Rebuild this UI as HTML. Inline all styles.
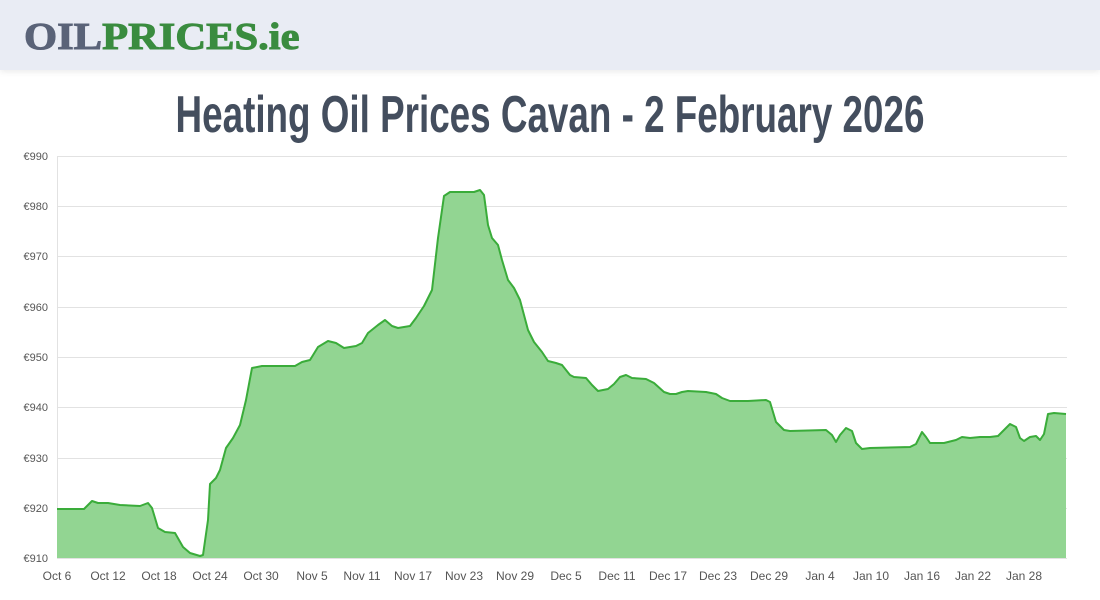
<!DOCTYPE html>
<html><head><meta charset="utf-8"><style>
body{margin:0;width:1100px;height:600px;background:#fff;overflow:hidden;font-family:"Liberation Sans",sans-serif}
.hdr{position:absolute;left:0;top:0;width:1100px;height:70px;background:#e9ecf4;box-shadow:0 2px 6px rgba(0,0,0,0.08)}
.logo{position:absolute;left:24px;top:17px;font-family:"Liberation Serif",serif;font-weight:bold;font-size:38px;letter-spacing:0px;line-height:40px;transform-origin:0 0;transform:scaleX(1.12);-webkit-text-stroke:1px currentColor}
h1{position:absolute;left:0;top:84px;width:1100px;margin:0;text-align:center;font-family:"Liberation Sans Narrow","Liberation Sans",sans-serif;font-weight:bold;font-size:52px;color:#444e5e;line-height:62px;transform:scaleX(0.708);transform-origin:550px 0}
</style></head><body>
<div class="hdr"><div class="logo"><span style="color:#5a6378">OIL</span><span style="color:#3a8c3f">PRICES.ie</span></div></div>
<h1>Heating Oil Prices Cavan - 2 February 2026</h1>
<svg width="1100" height="600" style="position:absolute;left:0;top:0">
<g stroke="#e2e2e2" stroke-width="1">
<line x1="57" y1="156.5" x2="1067" y2="156.5"/><line x1="57" y1="206.5" x2="1067" y2="206.5"/><line x1="57" y1="256.5" x2="1067" y2="256.5"/><line x1="57" y1="307.5" x2="1067" y2="307.5"/><line x1="57" y1="357.5" x2="1067" y2="357.5"/><line x1="57" y1="407.5" x2="1067" y2="407.5"/><line x1="57" y1="458.5" x2="1067" y2="458.5"/><line x1="57" y1="508.5" x2="1067" y2="508.5"/><line x1="57" y1="558.5" x2="1067" y2="558.5"/>
<line x1="57.5" y1="156" x2="57.5" y2="558"/>
</g>
<g font-size="11" fill="#555" text-anchor="end">
<text x="48" y="160">€990</text><text x="48" y="210">€980</text><text x="48" y="260">€970</text><text x="48" y="311">€960</text><text x="48" y="361">€950</text><text x="48" y="411">€940</text><text x="48" y="462">€930</text><text x="48" y="512">€920</text><text x="48" y="562">€910</text>
</g>
<g font-size="12" fill="#555" text-anchor="middle">
<text x="57" y="580">Oct 6</text><text x="108" y="580">Oct 12</text><text x="159" y="580">Oct 18</text><text x="210" y="580">Oct 24</text><text x="261" y="580">Oct 30</text><text x="312" y="580">Nov 5</text><text x="362" y="580">Nov 11</text><text x="413" y="580">Nov 17</text><text x="464" y="580">Nov 23</text><text x="515" y="580">Nov 29</text><text x="566" y="580">Dec 5</text><text x="617" y="580">Dec 11</text><text x="668" y="580">Dec 17</text><text x="718" y="580">Dec 23</text><text x="769" y="580">Dec 29</text><text x="820" y="580">Jan 4</text><text x="871" y="580">Jan 10</text><text x="922" y="580">Jan 16</text><text x="973" y="580">Jan 22</text><text x="1024" y="580">Jan 28</text>
</g>
<polygon fill="#92d592" points="57,558 57,509 80,509 84,509 92,501 98,503 108,503 120,505 140,506 148,503 152,508 158,528 165,532 175,533 183,547 190,553 200,556 203,555 208,520 210,484 216,478 220,470 226,448 233,438 240,425 246,400 252,368 262,366 295,366 302,362 310,360 318,347 328,341 336,343 344,348 356,346 362,343 368,333 378,325 385,320 392,326 398,328 410,326 416,318 424,306 432,290 438,238 444,196 450,192 468,192 474,192 480,190 484,195 488,225 492,238 498,245 502,260 508,280 514,288 520,300 528,330 534,342 542,352 548,361 556,363 562,365 570,375 574,377 586,378 592,385 598,391 608,389 614,384 620,377 626,375 632,378 646,379 654,383 664,392 670,394 676,394 682,392 688,391 706,392 716,394 722,398 730,401 748,401 766,400 770,402 776,422 784,430 790,431 826,430 832,435 836,442 840,435 846,428 852,431 856,443 862,449 870,448 910,447 916,444 922,432 926,437 930,443 944,443 956,440 962,437 970,438 980,437 990,437 998,436 1004,430 1010,424 1016,427 1020,438 1024,441 1030,437 1036,436 1040,440 1044,434 1048,414 1054,413 1066,414 1066,558"/>
<polyline fill="none" stroke="#3aac3a" stroke-width="2" stroke-linejoin="round" points="57,509 80,509 84,509 92,501 98,503 108,503 120,505 140,506 148,503 152,508 158,528 165,532 175,533 183,547 190,553 200,556 203,555 208,520 210,484 216,478 220,470 226,448 233,438 240,425 246,400 252,368 262,366 295,366 302,362 310,360 318,347 328,341 336,343 344,348 356,346 362,343 368,333 378,325 385,320 392,326 398,328 410,326 416,318 424,306 432,290 438,238 444,196 450,192 468,192 474,192 480,190 484,195 488,225 492,238 498,245 502,260 508,280 514,288 520,300 528,330 534,342 542,352 548,361 556,363 562,365 570,375 574,377 586,378 592,385 598,391 608,389 614,384 620,377 626,375 632,378 646,379 654,383 664,392 670,394 676,394 682,392 688,391 706,392 716,394 722,398 730,401 748,401 766,400 770,402 776,422 784,430 790,431 826,430 832,435 836,442 840,435 846,428 852,431 856,443 862,449 870,448 910,447 916,444 922,432 926,437 930,443 944,443 956,440 962,437 970,438 980,437 990,437 998,436 1004,430 1010,424 1016,427 1020,438 1024,441 1030,437 1036,436 1040,440 1044,434 1048,414 1054,413 1066,414"/>
</svg>
</body></html>
